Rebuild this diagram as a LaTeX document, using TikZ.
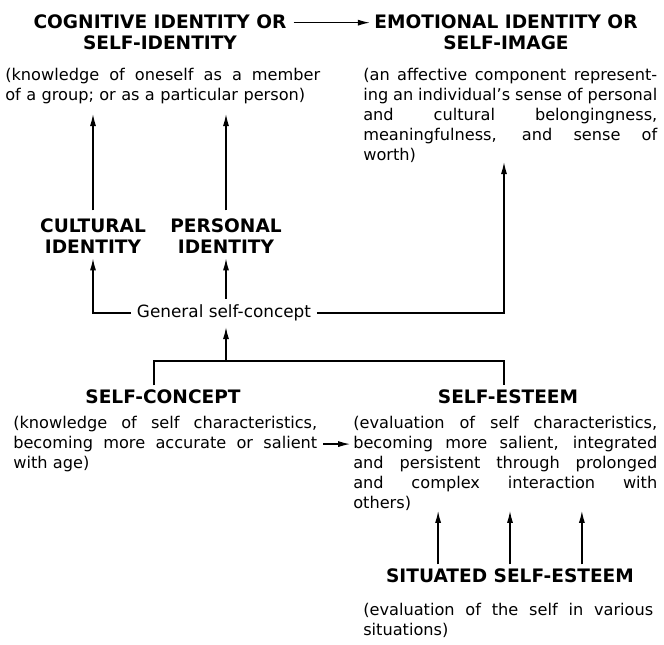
\documentclass[tikz,border=0pt]{standalone}
\usepackage{fontspec}
\setmainfont{DejaVu Sans}
\usepackage{tikz}
\usetikzlibrary{arrows.meta,calc}
\newlength{\fullw}
\newcommand{\fullline}[1]{{\spaceskip=0pt\xspaceskip=0pt\makebox[\fullw][s]{#1}}}
\tikzset{
  headbox/.style={align=center, font=\bfseries\fontsize{13.2}{14.9}\selectfont,
    inner sep=3pt},
  descbox/.style={anchor=north west, align=left, inner sep=0pt, text width=#1,
    execute at begin node={\setlength{\fullw}{#1}},
    font=\fontsize{11.5}{14.2}\selectfont},
  notelabel/.style={font=\fontsize{12}{14}\selectfont, inner sep=4pt},
  linkline/.style={draw=black, line width=0.9pt},
  linkarrow/.style={-{Latex[length=3mm,width=1.5mm]}, draw=black, line width=0.9pt},
}

\begin{document}
\begin{tikzpicture}[x=0.25cm, y=-0.25cm]
  \useasboundingbox (0,0) rectangle (66.4,64.4);

  % ============ Top row: identity (y = 3.2) ============
  \node[headbox] (cogid) at (16.0, 3.2) {COGNITIVE IDENTITY OR\\SELF-IDENTITY};
  \node[headbox] (emoid) at (50.6, 3.2) {EMOTIONAL IDENTITY OR\\SELF-IMAGE};

  \node[descbox=7.875cm] (cogdesc) at (0.5, 6.8)
    {\fullline{(knowledge of oneself as a member}\\
     of a group; or as a particular person)};
  \node[descbox=7.35cm] (emodesc) at (36.3, 6.8)
    {\fullline{(an affective component represent-}\\
     \fullline{ing an individual's sense of personal}\\
     \fullline{and cultural belongingness,}\\
     \fullline{meaningfulness, and sense of}\\
     worth)};

  % ============ Middle row: cultural / personal (y = 23.65) ============
  \node[headbox] (cult) at (9.3, 23.65) {CULTURAL\\IDENTITY};
  \node[headbox] (pers) at (22.6, 23.65) {PERSONAL\\IDENTITY};

  \node[notelabel] (gsc) at (22.4, 31.3) {General self-concept};
  \coordinate (emotip) at (50.4, 16.2);

  % ============ Lower row: self-concept / self-esteem (y = 39.7) ============
  \coordinate (split) at (22.6, 36.1);
  \coordinate (barl)  at (15.4, 36.1);
  \coordinate (barr)  at (50.4, 36.1);

  \node[headbox] (selfc) at (16.3, 39.7) {SELF-CONCEPT};
  \node[headbox] (selfe) at (50.8, 39.7) {SELF-ESTEEM};

  \node[descbox=7.6cm] (scdesc) at (1.3, 41.6)
    {\fullline{(knowledge of self characteristics,}\\
     \fullline{becoming more accurate or salient}\\
     with age)};
  \node[descbox=7.6cm] (sedesc) at (35.3, 41.6)
    {\fullline{(evaluation of self characteristics,}\\
     \fullline{becoming more salient, integrated}\\
     \fullline{and persistent through prolonged}\\
     \fullline{and complex interaction with}\\
     others)};

  % ============ Bottom: situated self-esteem ============
  \node[headbox] (sit) at (51.0, 57.6) {SITUATED SELF-ESTEEM};
  \node[descbox=7.25cm] (sitdesc) at (36.3, 60.3)
    {\fullline{(evaluation of the self in various}\\
     situations)};

  % ============ Connectors ============
  \draw[linkarrow, shorten <=2pt] ([yshift=-9pt]cogid.north east) --
    ([yshift=-9pt]emoid.north west);

  \draw[linkarrow, shorten <=3pt, shorten >=7pt] (cult) -- (cult |- cogdesc.south);
  \draw[linkarrow, shorten <=3pt, shorten >=7pt] (pers) -- (pers |- cogdesc.south);

  \draw[linkarrow] (gsc.west) -| (cult);
  \draw[linkarrow] (gsc.north -| pers) -- (pers);
  \draw[linkarrow] (gsc.east) -| (emotip);

  \draw[linkarrow] (split) -- (split |- gsc.south);
  \draw[linkline] (barl |- selfc.north) -- (barl) -- (barr) -- (barr |- selfe.north);

  \draw[linkarrow, shorten <=4pt, shorten >=2pt] (scdesc.east) -- (scdesc.east -| sedesc.west);

  \foreach \f [count=\i] in {0.22,0.5,0.78} {
    \coordinate (situp\i) at ($(sit.north west)!\f!(sit.north east)$);
    \draw[linkarrow] (situp\i) -- (situp\i |- sedesc.south);
  }

\end{tikzpicture}
\end{document}
